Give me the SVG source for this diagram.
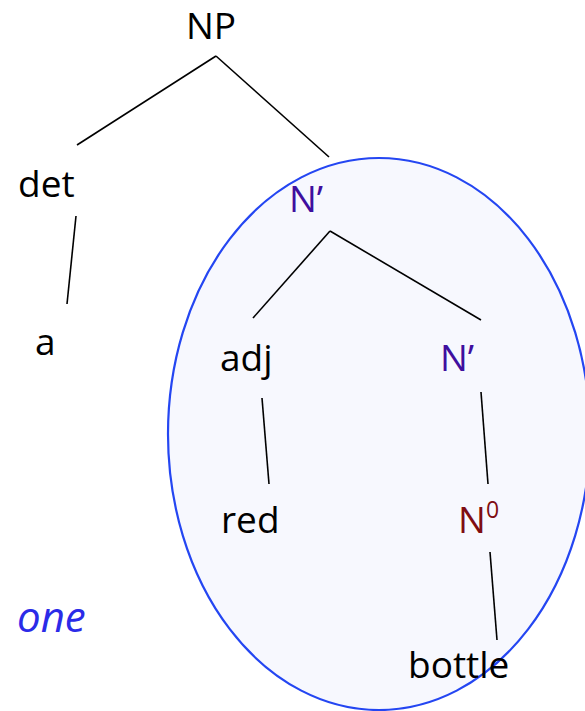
<svg xmlns="http://www.w3.org/2000/svg" width="585" height="711" viewBox="0 0 585 711">
  <style>
    text { font-family: "Open Sans", "Noto Sans", "DejaVu Sans", sans-serif; font-size: 37px; fill: #000; }
    .bar { fill: #3f0f9f; }
    .zero { fill: #7f0d12; }
    .pro { fill: #2b2be8; font-style: italic; font-size: 42px; }
    .edge { stroke: #000; stroke-width: 1.6; fill: none; }
  </style>

  <!-- constituent replaced by "one" -->
  <ellipse id="scope" cx="379" cy="434" rx="211" ry="276" fill="#f7f8fe" stroke="#2446f2" stroke-width="2.2"/>

  <g id="connectors">
    <line class="edge" x1="216" y1="56" x2="77" y2="145"/>
    <line class="edge" x1="216" y1="56" x2="329" y2="157"/>
    <line class="edge" x1="76" y1="216" x2="67" y2="304"/>
    <line class="edge" x1="330" y1="231" x2="253" y2="318"/>
    <line class="edge" x1="330" y1="231" x2="481" y2="320"/>
    <line class="edge" x1="262" y1="398" x2="269" y2="484"/>
    <line class="edge" x1="481" y1="392" x2="488" y2="484"/>
    <line class="edge" x1="490" y1="552" x2="497" y2="640"/>
  </g>

  <g id="np"><text x="211" y="39" text-anchor="middle" font-size="34">NP</text></g>
  <g id="det"><text x="18" y="197">det</text></g>
  <g id="a"><text x="35" y="355">a</text></g>
  <g id="nbar-top"><text class="bar" x="289" y="212">N’</text></g>
  <g id="adj"><text x="220" y="371">adj</text></g>
  <g id="nbar-low"><text class="bar" x="440" y="371">N’</text></g>
  <g id="red"><text x="221" y="533">red</text></g>
  <g id="n0"><text class="zero" x="458" y="533">N<tspan x="486" y="518" font-size="23">0</tspan></text></g>
  <g id="bottle"><text x="408" y="678">bottle</text></g>
  <g id="one"><text class="pro" x="17" y="632">one</text></g>
</svg>
